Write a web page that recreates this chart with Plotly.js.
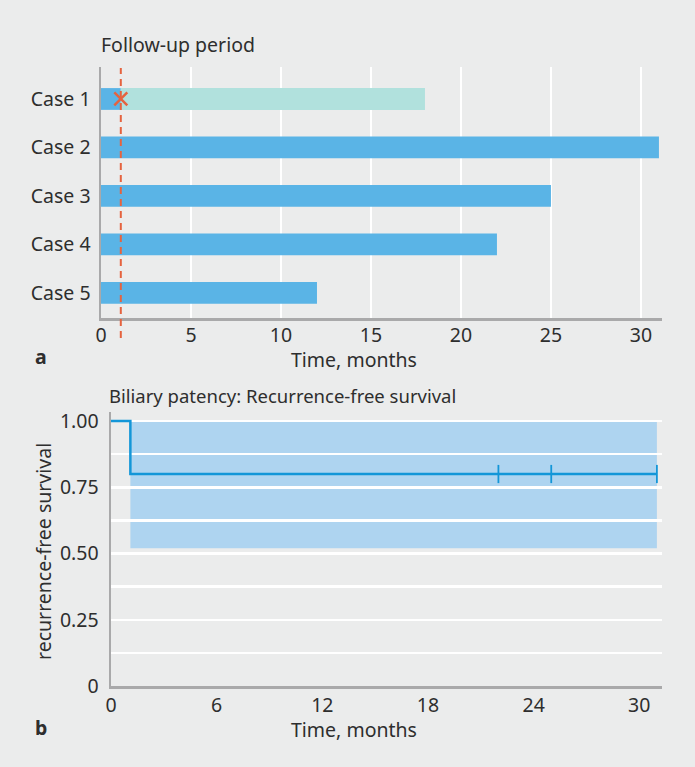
<!DOCTYPE html>
<html>
<head>
<meta charset="utf-8">
<script src="https://cdn.plot.ly/plotly-3.0.1.min.js"></script>
<style>
  html, body { margin: 0; padding: 0; background: #ebecec; }
  #chart { width: 695px; height: 767px; }
</style>
</head>
<body>
<div id="chart"></div>
<script>
// Panel a: follow-up per case (months)
const cases = ['Case 1', 'Case 2', 'Case 3', 'Case 4', 'Case 5'];
const followUp = [18, 31, 25, 22, 12];
const recurrenceAt = [1.1, null, null, null, null];   // month of recurrence, if any

// Panel b: Kaplan-Meier recurrence-free survival
const kmTime = [0, 1.1, 31];
const kmSurv = [1, 0.8, 0.8];
const censorTime = [22, 25, 31];
const censorSurv = [0.8, 0.8, 0.8];
const ciStart = 1.1, ciEnd = 31, ciLower = 0.52, ciUpper = 1.0;

const xTicksA = [0, 5, 10, 15, 20, 25, 30];
const xTicksB = [0, 6, 12, 18, 24, 30];
const yTicksB = [0, 0.25, 0.5, 0.75, 1.0];
const yTickTextB = ['0', '0.25', '0.50', '0.75', '1.00'];

const W = 695, H = 767;
const px = v => v / W;
const py = v => 1 - v / H;

const BG = '#ebecec';
const TEXT = '#2e2e2e';
const AXIS = '#a9a9aa';
const BLUE = '#5ab4e6';
const TEAL = '#b1e1dd';
const ORANGE = '#e5633f';
const KM = '#1396d8';
const BAND = '#aed4f0';
const FONT = '"Noto Sans", "Open Sans", sans-serif';
const FS = 19.5;

// bars up to the recurrence (or full follow-up), and after the recurrence
const solidLen = followUp.map((f, i) => recurrenceAt[i] != null ? recurrenceAt[i] : f);
const afterCases = [], afterBase = [], afterLen = [];
cases.forEach((c, i) => {
  if (recurrenceAt[i] != null) {
    afterCases.push(c);
    afterBase.push(recurrenceAt[i]);
    afterLen.push(followUp[i] - recurrenceAt[i]);
  }
});
const evCases = [], evTimes = [];
cases.forEach((c, i) => { if (recurrenceAt[i] != null) { evCases.push(c); evTimes.push(recurrenceAt[i]); } });

const traces = [
  {
    type: 'bar', orientation: 'h', y: cases, x: solidLen, base: 0,
    marker: { color: BLUE }, width: 0.45,
    xaxis: 'x', yaxis: 'y', hoverinfo: 'skip'
  },
  {
    type: 'bar', orientation: 'h', y: afterCases, x: afterLen, base: afterBase,
    marker: { color: TEAL }, width: 0.45,
    xaxis: 'x', yaxis: 'y', hoverinfo: 'skip'
  },
  {
    type: 'scatter', mode: 'markers', x: evTimes, y: evCases,
    marker: { symbol: 'x-thin-open', size: 13, line: { color: ORANGE, width: 2.5 }, color: ORANGE },
    xaxis: 'x', yaxis: 'y', hoverinfo: 'skip', cliponaxis: false
  },
  {
    type: 'scatter', mode: 'lines', x: kmTime, y: kmSurv,
    line: { shape: 'hv', color: KM, width: 2.5 },
    xaxis: 'x2', yaxis: 'y2', hoverinfo: 'skip', cliponaxis: false
  },
  {
    type: 'scatter', mode: 'markers', x: censorTime, y: censorSurv,
    marker: { symbol: 'line-ns', size: 13, line: { color: KM, width: 1.8 } },
    xaxis: 'x2', yaxis: 'y2', hoverinfo: 'skip', cliponaxis: false
  }
];

const shapes = [
  // confidence band, below the grid
  {
    type: 'rect', xref: 'x2', yref: 'y2', layer: 'below',
    x0: ciStart, x1: ciEnd, y0: ciLower, y1: ciUpper,
    fillcolor: BAND, line: { width: 0 }
  }
];
evTimes.forEach(t => shapes.push({
  type: 'line', xref: 'x', yref: 'paper', layer: 'above',
  x0: t, x1: t, y0: py(338), y1: py(68),
  line: { color: ORANGE, width: 2, dash: '7px,5px' }
}));

const annotations = [
  { text: 'Follow-up period', x: px(99), y: py(44), xref: 'paper', yref: 'paper',
    xanchor: 'left', yanchor: 'middle', showarrow: false, font: { size: FS, color: TEXT } },
  { text: 'Time, months', x: px(354), y: py(359), xref: 'paper', yref: 'paper',
    xanchor: 'center', yanchor: 'middle', showarrow: false, font: { size: FS, color: TEXT } },
  { text: '<b>a</b>', x: px(33), y: py(357), xref: 'paper', yref: 'paper',
    xanchor: 'left', yanchor: 'middle', showarrow: false, font: { size: FS, color: TEXT } },
  { text: 'Biliary patency: Recurrence-free survival', x: px(107), y: py(395), xref: 'paper', yref: 'paper',
    xanchor: 'left', yanchor: 'middle', showarrow: false, font: { size: 18.5, color: TEXT } },
  { text: 'Time, months', x: px(354), y: py(729), xref: 'paper', yref: 'paper',
    xanchor: 'center', yanchor: 'middle', showarrow: false, font: { size: FS, color: TEXT } },
  { text: '<b>b</b>', x: px(33), y: py(727), xref: 'paper', yref: 'paper',
    xanchor: 'left', yanchor: 'middle', showarrow: false, font: { size: FS, color: TEXT } },
  { text: 'recurrence-free survival', x: px(43), y: py(552), xref: 'paper', yref: 'paper',
    xanchor: 'center', yanchor: 'middle', textangle: -90, showarrow: false, font: { size: FS, color: TEXT } }
];

const axisCommon = {
  showline: true, linecolor: AXIS, linewidth: 2.5, zeroline: false,
  tickfont: { size: FS, color: TEXT, family: FONT },
  fixedrange: true
};

const layout = {
  width: W, height: H,
  margin: { l: 0, r: 0, t: 0, b: 0 },
  paper_bgcolor: BG, plot_bgcolor: BG,
  font: { family: FONT, color: TEXT, size: FS },
  showlegend: false, barmode: 'overlay',
  xaxis: Object.assign({}, axisCommon, {
    domain: [px(101), px(662)], range: [0, 31.17],
    tickvals: xTicksA, ticktext: xTicksA.map(String),
    showgrid: true, gridcolor: '#ffffff', gridwidth: 2.5,
    ticks: '', ticklabelstandoff: -2,
    anchor: 'y'
  }),
  yaxis: Object.assign({}, axisCommon, {
    domain: [py(318), py(67)], type: 'category', categoryarray: cases,
    range: [4.52, -0.66], showgrid: false,
    ticks: 'outside', ticklen: 4, tickcolor: 'rgba(0,0,0,0)',
    anchor: 'x'
  }),
  xaxis2: Object.assign({}, axisCommon, {
    domain: [px(111), px(662)], range: [0, 31.29],
    tickvals: xTicksB, ticktext: xTicksB.map(String),
    showgrid: false,
    ticks: '',
    anchor: 'y2'
  }),
  yaxis2: Object.assign({}, axisCommon, {
    domain: [py(686), py(412)], range: [0, 1.034],
    tickvals: yTicksB, ticktext: yTickTextB,
    showgrid: true, gridcolor: '#ffffff', gridwidth: 2.5,
    minor: { dtick: 0.125, showgrid: true, gridcolor: '#ffffff', gridwidth: 2.5 },
    ticks: 'outside', ticklen: 6, tickcolor: 'rgba(0,0,0,0)',
    anchor: 'x2'
  }),
  shapes: shapes,
  annotations: annotations
};

Plotly.newPlot('chart', traces, layout, { displayModeBar: false, staticPlot: true });
</script>
</body>
</html>
